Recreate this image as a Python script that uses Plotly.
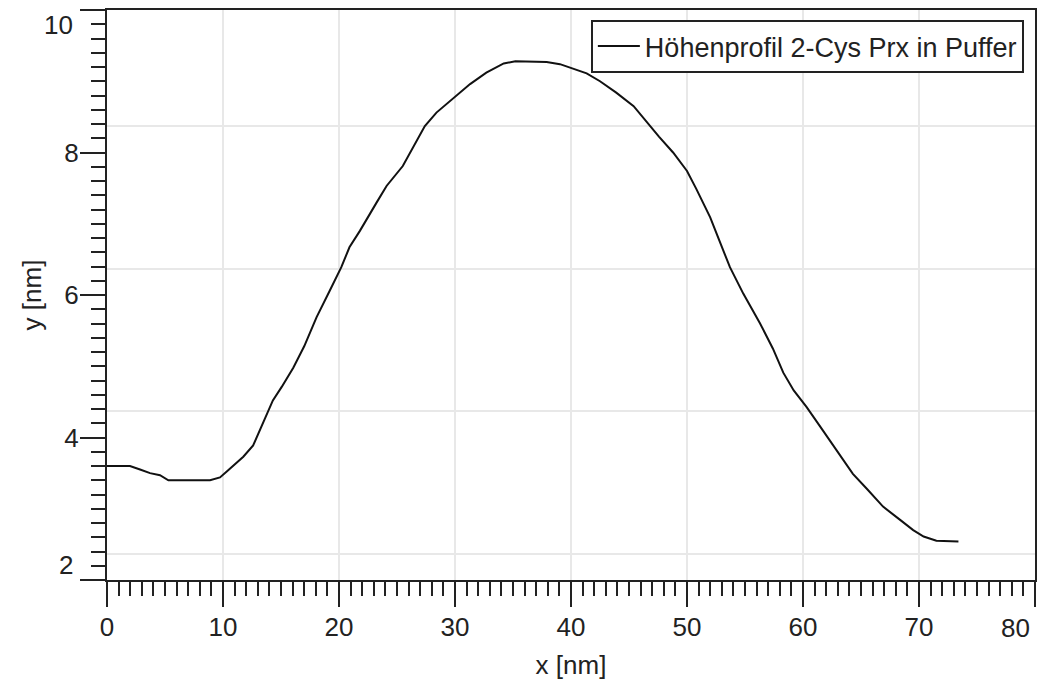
import plotly.graph_objects as go

# Height profile
x_nm = [0.0, 1.98, 2.85, 3.71, 4.57, 5.29, 8.88, 9.74, 10.3, 11.75, 12.6, 13.5, 14.3,
        15.06, 16.06, 17.0, 18.07, 19.2, 20.2, 20.9, 21.8, 23.25, 24.1, 25.5,
        27.4, 28.4, 29.9, 31.3, 32.7, 34.2, 35.2, 37.9, 39.05, 40.2, 41.35, 42.5,
        43.9, 45.4, 46.5, 47.6, 48.8, 50.0, 50.8, 52.0, 52.8, 53.7, 54.85, 56.3,
        57.4, 58.3, 59.2, 60.3, 61.5, 62.9, 64.3, 65.5, 66.9, 68.4, 69.5, 70.4,
        71.5, 73.4]
y_nm = [3.60, 3.60, 3.55, 3.50, 3.47, 3.40, 3.40, 3.44, 3.52, 3.73, 3.89, 4.22, 4.52,
        4.71, 4.98, 5.28, 5.69, 6.06, 6.39, 6.67, 6.90, 7.30, 7.53, 7.81,
        8.37, 8.56, 8.77, 8.96, 9.12, 9.25, 9.28, 9.27, 9.24, 9.18, 9.11, 9.00,
        8.84, 8.65, 8.43, 8.22, 8.00, 7.74, 7.49, 7.09, 6.76, 6.39, 6.02, 5.60,
        5.25, 4.91, 4.66, 4.43, 4.15, 3.82, 3.49, 3.28, 3.03, 2.84, 2.70, 2.61,
        2.55, 2.54]

series_name = "Höhenprofil 2-Cys Prx in Puffer"
x_ticks = [0, 10, 20, 30, 40, 50, 60, 70, 80]
x_ticktext = ["0", "10", "20", "30", "40", "50", "60", "70", ""]
y_ticks = [2, 4, 6, 8, 10]
y_ticktext = ["", "4", "6", "8", ""]

FONT = "Liberation Sans Narrow, Arial Narrow, Liberation Sans, sans-serif"
FS = 26
INK = "#222222"

fig = go.Figure()
fig.add_trace(go.Scatter(x=x_nm, y=y_nm, mode="lines", name=series_name,
                         line=dict(color="#111111", width=2), xaxis="x", yaxis="y"))
# empty helper trace so the grid-only overlay axis is drawn
fig.add_trace(go.Scatter(x=[None], y=[None], mode="lines", showlegend=False,
                         hoverinfo="skip", xaxis="x", yaxis="y2"))

fig.update_layout(
    width=1041, height=691,
    margin=dict(l=107, r=6, t=10, b=111),
    paper_bgcolor="white", plot_bgcolor="white",
    font=dict(family=FONT, size=FS, color=INK),
    showlegend=True,
    legend=dict(x=0.988, y=0.9825, xanchor="right", yanchor="top",
                bordercolor=INK, borderwidth=2, bgcolor="white",
                font=dict(family=FONT, size=27, color=INK),
                itemwidth=42),
    xaxis=dict(range=[0, 80], tickmode="array", tickvals=x_ticks, ticktext=x_ticktext,
               showline=True, linecolor=INK, linewidth=2, mirror=True,
               ticks="outside", ticklen=25, tickwidth=2, tickcolor=INK,
               ticklabelstandoff=-2, automargin=False,
               showgrid=True, gridcolor="#e8e8e8", gridwidth=2, zeroline=False,
               minor=dict(dtick=1, tick0=0, ticks="outside", ticklen=14, tickwidth=2,
                          tickcolor=INK, showgrid=False),
               title=dict(text="x [nm]", font=dict(family=FONT, size=FS))),
    yaxis=dict(range=[2, 10], tickmode="array", tickvals=y_ticks, ticktext=y_ticktext,
               showline=True, linecolor=INK, linewidth=2, mirror=True,
               ticks="outside", ticklen=25, tickwidth=2, tickcolor=INK,
               ticklabelstandoff=-4, automargin=False,
               showgrid=False, zeroline=False,
               minor=dict(dtick=0.2, tick0=0, ticks="outside", ticklen=14, tickwidth=2,
                          tickcolor=INK, showgrid=False),
               title=dict(text="y [nm]", font=dict(family=FONT, size=FS))),
    yaxis2=dict(range=[2, 10], overlaying="y", anchor="x", tickmode="linear",
                tick0=0.37, dtick=2, automargin=False,
                showgrid=True, gridcolor="#e8e8e8", gridwidth=2, showticklabels=False,
                ticks="", showline=False, zeroline=False),
)

# clamped end labels, as in the reference
fig.add_annotation(x=80, y=0, xref="x", yref="paper", text="80", showarrow=False,
                   xanchor="center", yanchor="middle", xshift=-20, yshift=-48,
                   font=dict(family=FONT, size=FS, color=INK))
fig.add_annotation(x=0, y=10, xref="paper", yref="y", text="10", showarrow=False,
                   xanchor="right", yanchor="middle", xshift=-32, yshift=-15,
                   font=dict(family=FONT, size=FS, color=INK))
fig.add_annotation(x=0, y=2, xref="paper", yref="y", text="2", showarrow=False,
                   xanchor="right", yanchor="middle", xshift=-32, yshift=15,
                   font=dict(family=FONT, size=FS, color=INK))

fig.write_html("out.html", config={"displayModeBar": False},
               post_script="document.body.style.margin='0';")
